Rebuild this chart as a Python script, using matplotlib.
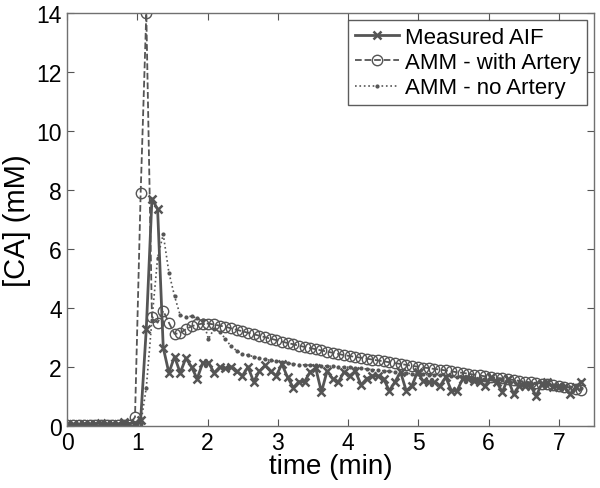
import numpy as np
import matplotlib
matplotlib.use("Agg")
import matplotlib.pyplot as plt

plt.rcParams['font.family'] = ['Liberation Sans', 'DejaVu Sans']

# sampling: 92 frames from 0 to ~7.32 min
t_end = 7.32

measured_aif = [
    0.05, 0.06, 0.04, 0.07, 0.05, 0.08, 0.10, 0.05, 0.07, 0.06, 0.12, 0.08, 0.10,
    0.20, 3.30, 7.70, 7.35, 2.65, 1.80,
    2.35, 1.80, 2.30, 2.00, 1.60, 2.15, 2.15, 1.80, 2.00, 1.95, 2.00, 1.85,
    1.70, 2.00, 1.50, 1.85, 2.05, 1.85, 1.70, 2.10, 1.65, 1.30, 1.50, 1.50,
    1.83, 1.95, 1.15, 1.86, 1.60, 1.49, 1.83, 1.70, 1.86, 1.39, 1.60, 1.70,
    1.70, 1.60, 1.19, 1.49, 1.83, 1.19, 1.36, 1.83, 1.52, 1.49, 1.49, 1.36,
    1.66, 1.19, 1.19, 1.60, 1.60, 1.52, 1.49, 1.36, 1.66, 1.49, 1.15, 1.60,
    1.08, 1.36, 1.36, 1.36, 1.02, 1.42, 1.49, 1.32, 1.32, 1.32, 1.08, 1.32, 1.49,
]

amm_artery = [
    0.02, 0.02, 0.02, 0.02, 0.02, 0.02, 0.02, 0.02, 0.02, 0.02, 0.02, 0.02,
    0.30, 7.90, 14.0, 3.70, 3.50, 3.90, 3.50, 3.12, 3.15, 3.28, 3.38, 3.44,
    3.47, 3.47, 3.44, 3.40, 3.36, 3.31, 3.26, 3.21, 3.16, 3.11, 3.06, 3.01,
    2.96, 2.91, 2.86, 2.81, 2.77, 2.72, 2.68, 2.64, 2.60, 2.56, 2.52, 2.48,
    2.44, 2.40, 2.37, 2.34, 2.31, 2.28, 2.25, 2.22, 2.19, 2.16, 2.13, 2.10,
    2.07, 2.04, 2.01, 1.98, 1.96, 1.93, 1.91, 1.88, 1.85, 1.82, 1.80, 1.77,
    1.74, 1.71, 1.68, 1.66, 1.63, 1.61, 1.58, 1.56, 1.53, 1.50, 1.48, 1.46,
    1.43, 1.41, 1.38, 1.36, 1.33, 1.30, 1.26, 1.22,
]

amm_no_artery = [
    0.0, 0.0, 0.0, 0.0, 0.0, 0.0, 0.0, 0.0, 0.0, 0.0, 0.0, 0.0, 0.0,
    0.05, 1.30, 3.60, 5.70, 6.50, 5.20, 4.40, 3.75, 3.70, 3.72, 3.65, 3.60,
    2.95, 3.30, 3.20, 2.95, 2.70, 2.55, 2.45, 2.40, 2.35, 2.30, 2.26, 2.22,
    2.19, 2.16, 2.13, 2.10, 2.08, 2.07, 2.06, 2.05, 2.04, 2.03, 2.02, 2.01,
    2.00, 1.99, 1.97, 1.95, 1.93, 1.91, 1.89, 1.87, 1.85, 1.83, 1.81, 1.79,
    1.77, 1.76, 1.75, 1.73, 1.72, 1.71, 1.70, 1.68, 1.67, 1.66, 1.65, 1.63,
    1.62, 1.60, 1.58, 1.56, 1.55, 1.53, 1.51, 1.49, 1.47, 1.46, 1.44, 1.42,
    1.40, 1.38, 1.37, 1.35, 1.33, 1.31, 1.30,
]

t = np.linspace(0, t_end, len(measured_aif))
col = '#555555'

fig = plt.figure(figsize=(6.0, 4.89), dpi=100)
ax = fig.add_axes([0.112, 0.127, 0.878, 0.844])

ax.plot(t, measured_aif, '-x', color=col, lw=2.0, ms=6, mew=1.8, label='Measured AIF')
ax.plot(t, amm_artery, '--o', color=col, lw=1.3, ms=7.5, mew=1.0, mfc='none',
        label='AMM - with Artery')
ax.plot(t, amm_no_artery, ':.', color=col, lw=1.2, ms=4, label='AMM - no Artery')

ax.set_xlim(0, 7.5)
ax.set_ylim(0, 14)
ax.set_xticks(range(0, 8))
ax.set_yticks(range(0, 15, 2))
ax.tick_params(direction='in', top=True, right=True, labelsize=16.5, length=5,
               color='#555555', pad=4)
for s in ax.spines.values():
    s.set_color('#707070')
    s.set_linewidth(1.0)

ax.set_xlabel('time (min)', fontsize=20, labelpad=-1)
ax.set_ylabel('[CA] (mM)', fontsize=21, labelpad=4)

leg = ax.legend(loc='upper right', fontsize=16, frameon=True, fancybox=False,
                handlelength=2.0, handletextpad=0.25, borderpad=0.3,
                labelspacing=0.2, borderaxespad=0.3)
leg.get_frame().set_edgecolor('#333333')
leg.get_frame().set_linewidth(1.0)

fig.savefig('out.png', dpi=100)
